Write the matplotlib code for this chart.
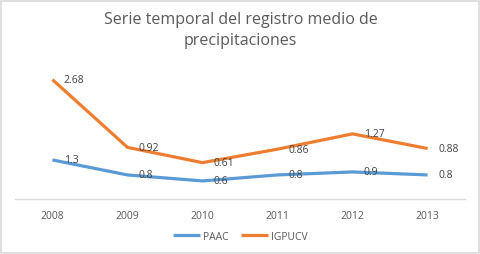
import numpy as np
from matplotlib import pyplot as plt
from matplotlib.patches import Rectangle

years = ["2008", "2009", "2010", "2011", "2012", "2013"]
paac = [1.3, 0.8, 0.6, 0.8, 0.9, 0.8]
igpucv = [2.68, 0.92, 0.61, 0.86, 1.27, 0.88]

# stacked line chart: second series sits on top of the first
x = np.arange(len(years))
paac_top = np.array(paac)
igpucv_top = paac_top + np.array(igpucv)

blue = "#5B9BD5"
orange = "#ED7D31"
text_color = "#595959"
plt.rcParams["font.family"] = ["Open Sans", "DejaVu Sans"]

fig = plt.figure(figsize=(4.81, 2.55), dpi=100)
fig.patches.append(Rectangle((0.002, 0.004), 0.994, 0.99, transform=fig.transFigure,
                             fill=False, edgecolor="#d9d9d9", linewidth=1.2))
ax = fig.add_axes([0.031, 0.216, 0.936, 0.529])

ax.plot(x, paac_top, color=blue, lw=2.3, label="PAAC", solid_capstyle="butt")
ax.plot(x, igpucv_top, color=orange, lw=2.3, label="IGPUCV", solid_capstyle="butt")

for xi, yi, v in zip(x, paac_top, paac):
    ax.annotate("%g" % v, (xi, yi), xytext=(8, 0), textcoords="offset points",
                ha="left", va="center", fontsize=7.5, color="#404040")
for xi, yi, v in zip(x, igpucv_top, igpucv):
    ax.annotate("%g" % v, (xi, yi), xytext=(8, 0), textcoords="offset points",
                ha="left", va="center", fontsize=7.5, color="#404040")

ax.set_xlim(-0.5, len(years) - 0.5)
ax.set_ylim(0, 4.5)
ax.set_xticks(x)
ax.set_xticklabels(years, fontsize=7.5, color=text_color)
ax.set_yticks([])
ax.tick_params(axis="x", length=0, pad=8)
for s in ["top", "right", "left"]:
    ax.spines[s].set_visible(False)
ax.spines["bottom"].set_color("#d9d9d9")
ax.spines["bottom"].set_linewidth(1)

fig.text(0.5, 0.88, "Serie temporal del registro medio de\nprecipitaciones",
         ha="center", va="center", fontsize=11.5, color=text_color, linespacing=1.35)

fig.legend(loc="center", bbox_to_anchor=(0.5, 0.07), ncol=2, frameon=False,
           fontsize=7.5, handlelength=2.6, handletextpad=0.3, columnspacing=1.2,
           labelcolor=text_color)

fig.savefig("out.png", dpi=100)
